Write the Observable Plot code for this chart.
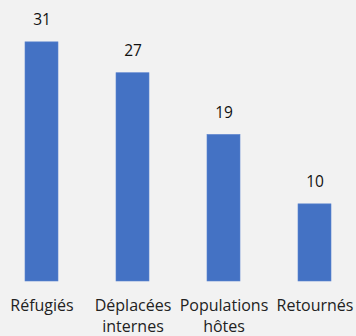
<!DOCTYPE html>
<html>
<head>
<meta charset="utf-8">
<script src="https://cdn.jsdelivr.net/npm/d3@7"></script>
<script src="https://cdn.jsdelivr.net/npm/@observablehq/plot@0.6"></script>
<style>
  html, body { margin: 0; padding: 0; background: #f2f2f2; }
  #chart svg { display: block; }
</style>
</head>
<body>
<div id="chart"></div>
<script>
// Categories (line breaks split the longer labels) and their counts
const categories = ["Réfugiés", "Déplacées\ninternes", "Populations\nhôtes", "Retournés"];
const values = [31, 27, 19, 10];

const data = categories.map((c, i) => ({category: c, value: values[i]}));

const chart = Plot.plot({
  width: 356,
  height: 336,
  marginTop: 11,
  marginBottom: 55,
  marginLeft: 0,
  marginRight: 0,
  style: {background: "#f2f2f2", fontFamily: "'Open Sans', sans-serif"},
  x: {domain: categories, paddingInner: 0.64, paddingOuter: 0.261, label: null},
  y: {domain: [0, 35], axis: null},
  marks: [
    Plot.barY(data, {x: "category", y: "value", fill: "#4472c4", stroke: "#5b84cf", strokeWidth: 0.6}),
    Plot.text(data, {x: "category", y: "value", text: d => String(d.value), dy: -22, fontSize: 15.5, fill: "#111"}),
    Plot.axisX({tickSize: 0, tickPadding: 15, fontSize: 16, lineHeight: 1.28, fill: "#222", label: null})
  ]
});
document.getElementById("chart").append(chart);
</script>
</body>
</html>
